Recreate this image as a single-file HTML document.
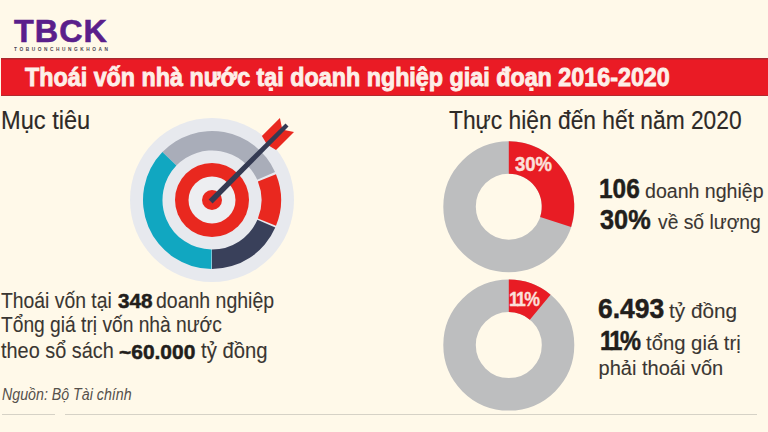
<!DOCTYPE html>
<html><head><meta charset="utf-8">
<style>
html,body{margin:0;padding:0;}
body{width:768px;height:432px;overflow:hidden;background:#FFF9E9;position:relative;font-family:"Liberation Sans",sans-serif;color:#34302C;}
.a{position:absolute;white-space:nowrap;line-height:1;transform-origin:0 0;}
svg{position:absolute;left:0;top:0;}
</style></head><body>
<div class="a" style="left:13.60px;top:15.86px;font-size:31px;transform:scaleX(1.0427);font-weight:bold;color:#5A1F8B;-webkit-text-stroke:0.6px #5A1F8B;letter-spacing:1px;">TBCK</div>
<div class="a" style="left:14.20px;top:47.10px;font-size:5.2px;transform:scaleX(0.9167);font-weight:bold;color:#4A4550;letter-spacing:2.8px;">TOBUONCHUNGKHOAN</div>
<div class="a" style="left:1px;top:58px;width:767px;height:38px;background:linear-gradient(to bottom,#A82A30 0,#A82A30 1px,#CC2029 1px,#CC2029 2px,#EA1B25 2px,#EA1B25 37px,#B32A2F 37px,#B32A2F 38px);"></div>
<svg width="768" height="432" viewBox="0 0 768 432">

<circle cx="212" cy="200" r="82" fill="#E7E9EE"/>
<path d="M162.37 152.07 A69.00 69.00 0 0 1 275.03 171.94 L257.22 179.87 A49.50 49.50 0 0 0 176.39 165.61 Z" fill="#A9ADB9"/>
<path d="M275.98 174.15 A69.00 69.00 0 0 1 275.98 225.85 L257.90 218.54 A49.50 49.50 0 0 0 257.90 181.46 Z" fill="#E9281F"/>
<path d="M275.28 227.51 A69.00 69.00 0 0 1 212.00 269.00 L212.00 249.50 A49.50 49.50 0 0 0 257.39 219.74 Z" fill="#39405A"/>
<path d="M211.40 269.00 A69.00 69.00 0 0 1 162.37 152.07 L176.39 165.61 A49.50 49.50 0 0 0 211.57 249.50 Z" fill="#11A7C1"/>
<circle cx="212" cy="200" r="37" fill="#E9281F"/>
<circle cx="212" cy="200" r="23.5" fill="#EDEEF1"/>
<circle cx="212" cy="200" r="10" fill="#E9281F"/>
<polygon points="282.0,127.9 279.9,118.0 261.9,136.0 266.4,143.4" fill="#E9281F"/>
<polygon points="284.1,130.0 294.0,132.1 276.0,150.1 268.6,145.6" fill="#E9281F"/>
<polygon points="208.6,199.4 285.5,123.5 288.5,126.5 212.6,203.4" fill="#343A52"/>


<circle cx="508.8" cy="206.7" r="49.25" fill="none" stroke="#BDBEBF" stroke-width="32.5"/>
<path d="M508.80 141.20 A65.50 65.50 0 0 1 571.09 226.94 L540.18 216.90 A33.00 33.00 0 0 0 508.80 173.70 Z" fill="#E81C24"/>
<circle cx="508.8" cy="345.1" r="49.25" fill="none" stroke="#BDBEBF" stroke-width="32.5"/>
<path d="M508.80 279.60 A65.50 65.50 0 0 1 550.55 294.63 L529.83 319.67 A33.00 33.00 0 0 0 508.80 312.10 Z" fill="#E81C24"/>

<line x1="2" y1="414.5" x2="55" y2="414.5" stroke="#D6D2C6" stroke-width="1"/>
<line x1="65" y1="414.5" x2="757" y2="414.5" stroke="#D6D2C6" stroke-width="1"/>
</svg>
<div class="a" style="left:25.20px;top:63.59px;font-size:26px;transform:scaleX(0.8965);font-weight:bold;color:#FDEFE8;-webkit-text-stroke:0.9px #FDEFE8;letter-spacing:0px;">Thoái vốn nhà nước tại doanh nghiệp giai đoạn 2016-2020</div>
<div class="a" style="left:0.71px;top:107.74px;font-size:25px;transform:scaleX(0.9440);-webkit-text-stroke:0.15px #2E2A27;color:#2E2A27;">Mục tiêu</div>
<div class="a" style="left:449.40px;top:107.59px;font-size:25px;transform:scaleX(0.9113);-webkit-text-stroke:0.15px #2E2A27;color:#2E2A27;">Thực hiện đến hết năm 2020</div>
<div class="a" style="left:1.30px;top:290.50px;font-size:21.5px;transform:scaleX(0.9000);-webkit-text-stroke:0.1px #3A3632;color:#3A3632;">Thoái vốn tại</div>
<div class="a" style="left:117.80px;top:290.87px;font-size:20px;transform:scaleX(1.0364);font-weight:bold;color:#221E1B;-webkit-text-stroke:0.5px #221E1B;">348</div>
<div class="a" style="left:156.09px;top:290.50px;font-size:21.5px;transform:scaleX(0.9062);-webkit-text-stroke:0.1px #3A3632;color:#3A3632;">doanh nghiệp</div>
<div class="a" style="left:1.10px;top:314.50px;font-size:21.5px;transform:scaleX(0.8931);-webkit-text-stroke:0.1px #3A3632;color:#3A3632;">Tổng giá trị vốn nhà nước</div>
<div class="a" style="left:1.00px;top:341.00px;font-size:21.5px;transform:scaleX(0.9248);-webkit-text-stroke:0.1px #3A3632;color:#3A3632;">theo sổ sách</div>
<div class="a" style="left:118.75px;top:341.97px;font-size:20px;transform:scaleX(1.0473);font-weight:bold;color:#221E1B;-webkit-text-stroke:0.5px #221E1B;">~60.000</div>
<div class="a" style="left:201.00px;top:341.00px;font-size:21.5px;transform:scaleX(0.9420);-webkit-text-stroke:0.1px #3A3632;color:#3A3632;">tỷ đồng</div>
<div class="a" style="left:1.50px;top:386.86px;font-size:16px;transform:scaleX(0.8883);font-style:italic;color:#55504B;">Nguồn: Bộ Tài chính</div>
<div class="a" style="left:599.33px;top:174.70px;font-size:28px;transform:scaleX(0.8711);font-weight:bold;color:#221E1B;-webkit-text-stroke:0.5px #221E1B;">106</div>
<div class="a" style="left:645.32px;top:180.57px;font-size:20px;transform:scaleX(0.9783);-webkit-text-stroke:0.1px #3A3632;color:#3A3632;">doanh nghiệp</div>
<div class="a" style="left:600.00px;top:205.80px;font-size:28px;transform:scaleX(0.9036);font-weight:bold;color:#221E1B;-webkit-text-stroke:0.5px #221E1B;">30%</div>
<div class="a" style="left:657.50px;top:212.07px;font-size:20px;transform:scaleX(0.9642);-webkit-text-stroke:0.1px #3A3632;color:#3A3632;">về số lượng</div>
<div class="a" style="left:598.26px;top:294.60px;font-size:28px;transform:scaleX(0.9449);font-weight:bold;color:#221E1B;-webkit-text-stroke:0.5px #221E1B;">6.493</div>
<div class="a" style="left:669.30px;top:301.07px;font-size:20px;transform:scaleX(1.0369);-webkit-text-stroke:0.1px #3A3632;color:#3A3632;">tỷ đồng</div>
<div class="a" style="left:599.66px;top:326.50px;font-size:28px;transform:scaleX(0.8426);font-weight:bold;color:#221E1B;-webkit-text-stroke:0.5px #221E1B;letter-spacing:-3px;">11%</div>
<div class="a" style="left:646.40px;top:333.07px;font-size:20px;transform:scaleX(1.0141);-webkit-text-stroke:0.1px #3A3632;color:#3A3632;">tổng giá trị</div>
<div class="a" style="left:598.60px;top:358.17px;font-size:20px;transform:scaleX(1.0000);-webkit-text-stroke:0.1px #3A3632;color:#3A3632;">phải thoái vốn</div>
<div class="a" style="left:515.20px;top:153.57px;font-size:20px;transform:scaleX(0.9250);font-weight:bold;color:#FBE0DA;-webkit-text-stroke:0.4px #FBE0DA;">30%</div>
<div class="a" style="left:509.31px;top:289.47px;font-size:20px;transform:scaleX(0.8853);font-weight:bold;color:#FBE0DA;-webkit-text-stroke:0.3px #FBE0DA;letter-spacing:-2px;">11%</div>
</body></html>
